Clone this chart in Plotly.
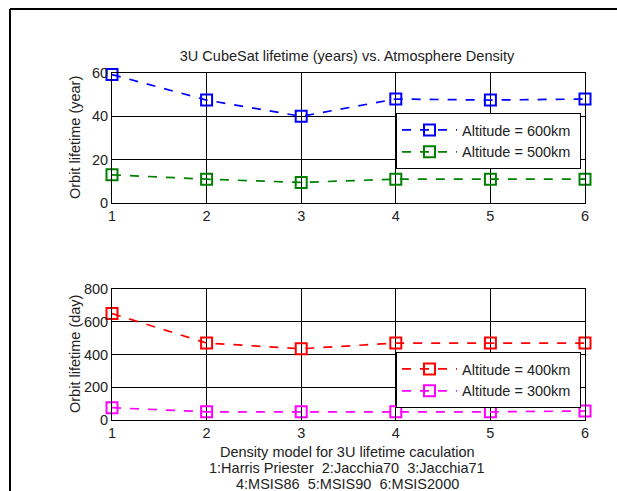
import plotly.graph_objects as go

models = [1, 2, 3, 4, 5, 6]
alt600_years = [59.3, 47.5, 40, 48, 47.5, 48]
alt500_years = [13, 11, 9.5, 11, 11, 11]
alt400_days = [650, 470, 435, 470, 470, 470]
alt300_days = [75, 50, 50, 50, 50, 55]

title_text = "3U CubeSat lifetime (years) vs. Atmosphere Density"
ytitle_top = "Orbit lifetime (year)"
ytitle_bottom = "Orbit lifetime (day)"
xtitle_lines = ["Density model for 3U lifetime caculation",
                "1:Harris Priester  2:Jacchia70  3:Jacchia71",
                "4:MSIS86  5:MSIS90  6:MSIS2000"]

W, H = 617, 491
FONT = "Liberation Sans, Arial, sans-serif"
FS = 14.5
TXT = "#222"

fig = go.Figure()
PAD = "\u00a0"

def add(x, y, name, color, xa, ya, legend):
    fig.add_trace(go.Scatter(
        x=x, y=y, name=name + PAD, mode="lines+markers", cliponaxis=False,
        line=dict(color=color, width=1.7, dash="dash"),
        marker=dict(symbol="square-open", size=11, color=color, line=dict(width=2, color=color)),
        xaxis=xa, yaxis=ya, legend=legend))

add(models, alt600_years, "Altitude = 600km", "#0000ff", "x", "y", "legend")
add(models, alt500_years, "Altitude = 500km", "#008000", "x", "y", "legend")
add(models, alt400_days, "Altitude = 400km", "#ff0000", "x2", "y2", "legend2")
add(models, alt300_days, "Altitude = 300km", "#ff00ff", "x2", "y2", "legend2")

xd = [112 / W, 585 / W]
common_axis = dict(showline=True, linecolor="black", linewidth=1, mirror="ticks",
                   ticks="inside", ticklen=4, tickcolor="black",
                   showgrid=True, gridcolor="black", gridwidth=1, zeroline=False,
                   tickfont=dict(family=FONT, size=FS, color=TXT))

leg_common = dict(xanchor="left", yanchor="top", itemwidth=55,
                  bgcolor="white", bordercolor="black", borderwidth=1,
                  font=dict(family=FONT, size=FS, color=TXT), tracegroupgap=0)

fig.update_layout(
    width=W, height=H,
    margin=dict(l=0, r=0, t=0, b=0, autoexpand=False),
    paper_bgcolor="white", plot_bgcolor="white",
    font=dict(family=FONT, size=FS, color=TXT),
    title=dict(text=title_text,
               x=347 / W, xanchor="center", y=1 - 56 / H, yanchor="middle",
               font=dict(family=FONT, size=FS, color=TXT)),
    xaxis=dict(domain=xd, anchor="y", range=[1, 6], tickvals=models, **common_axis),
    yaxis=dict(domain=[1 - 203 / H, 1 - 73 / H], anchor="x", range=[0, 60],
               tickvals=[0, 20, 40, 60], **common_axis),
    xaxis2=dict(domain=xd, anchor="y2", range=[1, 6], tickvals=models, **common_axis),
    yaxis2=dict(domain=[1 - 420 / H, 1 - 289 / H], anchor="x2", range=[0, 800],
                tickvals=[0, 200, 400, 600, 800], **common_axis),
    legend=dict(x=396 / W, y=1 - 113 / H, **leg_common),
    legend2=dict(x=396 / W, y=1 - 352 / H, **leg_common),
    showlegend=True,
)

# axis titles
fig.add_annotation(text=ytitle_top, xref="paper", yref="paper", x=75 / W, y=1 - 138 / H,
                   textangle=-90, showarrow=False, xanchor="center", yanchor="middle",
                   font=dict(family=FONT, size=FS, color=TXT))
fig.add_annotation(text=ytitle_bottom, xref="paper", yref="paper", x=75 / W, y=1 - 354 / H,
                   textangle=-90, showarrow=False, xanchor="center", yanchor="middle",
                   font=dict(family=FONT, size=FS, color=TXT))
for i, line in enumerate(xtitle_lines):
    fig.add_annotation(text=line, xref="paper", yref="paper", x=347 / W, y=1 - (452 + 16 * i) / H,
                       showarrow=False, xanchor="center", yanchor="middle",
                       font=dict(family=FONT, size=FS, color=TXT))

# outer page frame (left and top edges)
fig.add_shape(type="line", xref="paper", yref="paper",
              x0=10 / W, x1=10 / W, y0=0, y1=1 - 9 / H, line=dict(color="black", width=2))
fig.add_shape(type="line", xref="paper", yref="paper",
              x0=10 / W, x1=1, y0=1 - 9 / H, y1=1 - 9 / H, line=dict(color="black", width=2))

fig.write_html("out.html")
